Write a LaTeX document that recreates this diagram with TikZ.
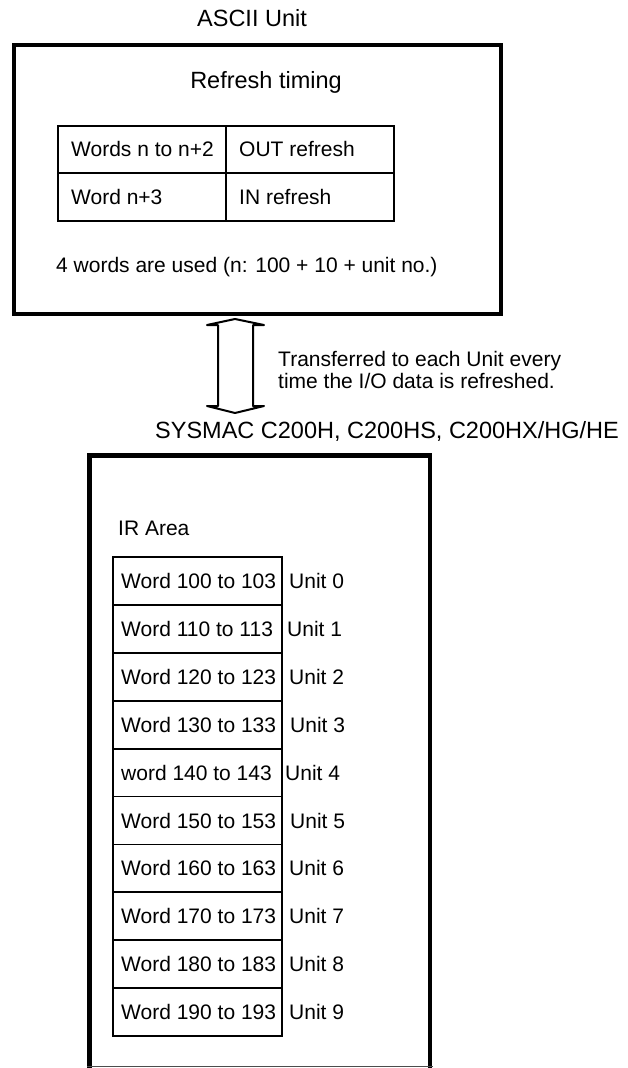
\documentclass[tikz,border=0pt]{standalone}
\usepackage{fontspec}
\setmainfont{Liberation Sans}
\begin{document}
\begin{tikzpicture}[x=1pt,y=-1pt,
  txt/.style={inner sep=0pt, anchor=base west, font=\fontsize{21}{25}\selectfont},
  ttl/.style={inner sep=0pt, anchor=base, font=\fontsize{23.5}{28}\selectfont},
  ttlw/.style={inner sep=0pt, anchor=base west, font=\fontsize{23.5}{28}\selectfont},
  bigline/.style={line width=4.5pt},
  cell/.style={line width=1.8pt},
  dblarrow/.style={line width=2pt, line join=round}]
\useasboundingbox (0,0) rectangle (628,1068);

% ---- ASCII Unit box ----
\node[ttl] (asciititle) at (252,26) {ASCII Unit};
\node[draw, bigline, minimum width=487pt, minimum height=269pt, inner sep=0pt] (ascii) at (257.5,179.5) {};
\node[ttl] (refresh) at (266,88) {Refresh timing};

\draw[cell] (58,126) rectangle (394,221);
\draw[cell] (58,173) -- (394,173);
\draw[cell] (226,126) -- (226,221);
\node[txt] (c11) at (71,156) {Words n to n+2};
\node[txt] (c12) at (239,156) {OUT refresh};
\node[txt] (c21) at (71,204) {Word n+3};
\node[txt] (c22) at (239,204) {IN refresh};
\node[txt] (used) at (56,272) {4 words are used (n: 100 + 10 + unit no.)};

% ---- double arrow ----
\coordinate (atip) at (235,319);
\coordinate (btip) at (235,413);
\draw[dblarrow] (atip) -- ++(29,6) -- ++(-11,0) -- ++(0,81) -- ++(11,0)
  -- (btip) -- ++(-28,-7) -- ++(11,0) -- ++(0,-81) -- ++(-11,0) -- cycle;

\node[txt] (tr1) at (278,366) {Transferred to each Unit every};
\node[txt] (tr2) at (278,388) {time the I/O data is refreshed.};
\node[ttlw] (plc) at (155,438) {SYSMAC C200H, C200HS, C200HX/HG/HE};

% ---- PLC box ----
\draw[bigline] (89.5,1075) -- (89.5,455.5) -- (430,455.5) -- (430,1075);
\draw[line width=1pt, black!70] (87,1066.5) -- (432.5,1066.5);

\node[txt] (ir) at (118,535) {IR Area};
\foreach \i/\w/\u/\ux in {0/Word 100 to 103/Unit 0/289,
                          1/Word 110 to 113/Unit 1/287,
                          2/Word 120 to 123/Unit 2/289,
                          3/Word 130 to 133/Unit 3/290,
                          4/word 140 to 143/Unit 4/285,
                          5/Word 150 to 153/Unit 5/290,
                          6/Word 160 to 163/Unit 6/289,
                          7/Word 170 to 173/Unit 7/289,
                          8/Word 180 to 183/Unit 8/289,
                          9/Word 190 to 193/Unit 9/289}{
  \node[draw, cell, minimum width=169pt, minimum height=47.9pt, inner sep=0pt]
    (r\i) at (197.5,{580.95+47.9*\i}) {};
  \node[txt] (w\i) at (121,{588.5+47.9*\i}) {\w};
  \node[txt] (u\i) at (\ux,{588.5+47.9*\i}) {\u};
}
\end{tikzpicture}
\end{document}
